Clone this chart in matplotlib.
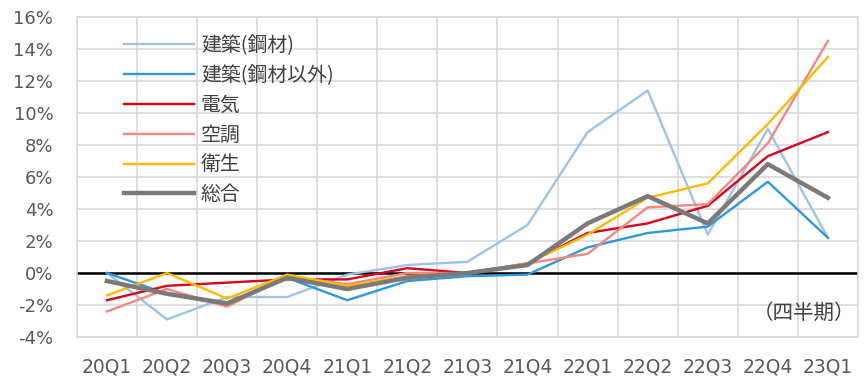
import numpy as np
import matplotlib
matplotlib.use("Agg")
import matplotlib.pyplot as plt

plt.rcParams['font.family'] = ['Noto Sans CJK JP', 'DejaVu Sans']

quarters = ["20Q1", "20Q2", "20Q3", "20Q4", "21Q1", "21Q2", "21Q3",
            "21Q4", "22Q1", "22Q2", "22Q3", "22Q4", "23Q1"]

steel = [0.0, -2.9, -1.5, -1.5, -0.1, 0.5, 0.7, 3.0, 8.8, 11.4, 2.4, 9.0, 2.2]
non_steel = [0.0, -1.3, -2.0, -0.3, -1.7, -0.5, -0.2, -0.1, 1.6, 2.5, 2.9, 5.7, 2.2]
electric = [-1.7, -0.8, -0.6, -0.4, -0.4, 0.3, 0.0, 0.6, 2.5, 3.1, 4.2, 7.3, 8.8]
aircon = [-2.4, -1.0, -2.1, -0.2, -0.7, 0.0, 0.0, 0.6, 1.2, 4.1, 4.3, 8.1, 14.5]
sanitary = [-1.4, 0.0, -1.6, -0.1, -0.8, -0.2, 0.0, 0.6, 2.4, 4.7, 5.6, 9.3, 13.5]
total = [-0.5, -1.3, -1.9, -0.3, -1.0, -0.3, 0.0, 0.5, 3.1, 4.8, 3.1, 6.8, 4.7]

series = [
    ("建築(鋼材)", steel, "#9dc3e6", 1.7),
    ("建築(鋼材以外)", non_steel, "#2e97de", 1.7),
    ("電気", electric, "#d9001b", 1.7),
    ("空調", aircon, "#f4877e", 1.7),
    ("衛生", sanitary, "#ffb900", 1.7),
    ("総合", total, "#7a7a7a", 3.2),
]

fig = plt.figure(figsize=(8.64, 3.83), dpi=100)
ax = fig.add_axes([0.089, 0.120, 0.904, 0.836])

x = np.arange(len(quarters))
ax.axhline(0, color="black", lw=1.8, zorder=2)
for name, vals, col, lw in series:
    ax.plot(x, vals, color=col, lw=lw, label=name, zorder=3)

ax.set_xlim(-0.5, len(quarters) - 0.5)
ax.set_ylim(-4, 16)
ax.set_yticks(np.arange(-4, 17, 2))
ax.set_yticklabels([f"{v}%" for v in range(-4, 17, 2)], family="DejaVu Sans")
ax.set_xticks(x)
ax.set_xticklabels(quarters, family="DejaVu Sans")
ax.set_xticks(np.arange(-0.5, len(quarters), 1), minor=True)

ax.grid(True, which="major", axis="y", color="#d9d9d9", lw=1.2)
ax.grid(True, which="minor", axis="x", color="#d9d9d9", lw=1.2)
ax.set_axisbelow(True)
for s in ax.spines.values():
    s.set_color("#d9d9d9")
    s.set_linewidth(1.2)

ax.tick_params(axis="both", which="both", length=0, colors="#595959")
ax.tick_params(axis="x", labelsize=13.5, pad=15)
ax.tick_params(axis="y", labelsize=13, pad=17)

leg = ax.legend(loc="upper left", bbox_to_anchor=(0.038, 1.0), frameon=False,
                fontsize=14.3, handlelength=3.5, handletextpad=0.35,
                labelspacing=0.45, labelcolor="#404040")

ax.text(0.997, 0.075, "（四半期）", transform=ax.transAxes, ha="right", va="center",
        fontsize=14.8, color="#404040")

fig.savefig("out.png", dpi=100)
